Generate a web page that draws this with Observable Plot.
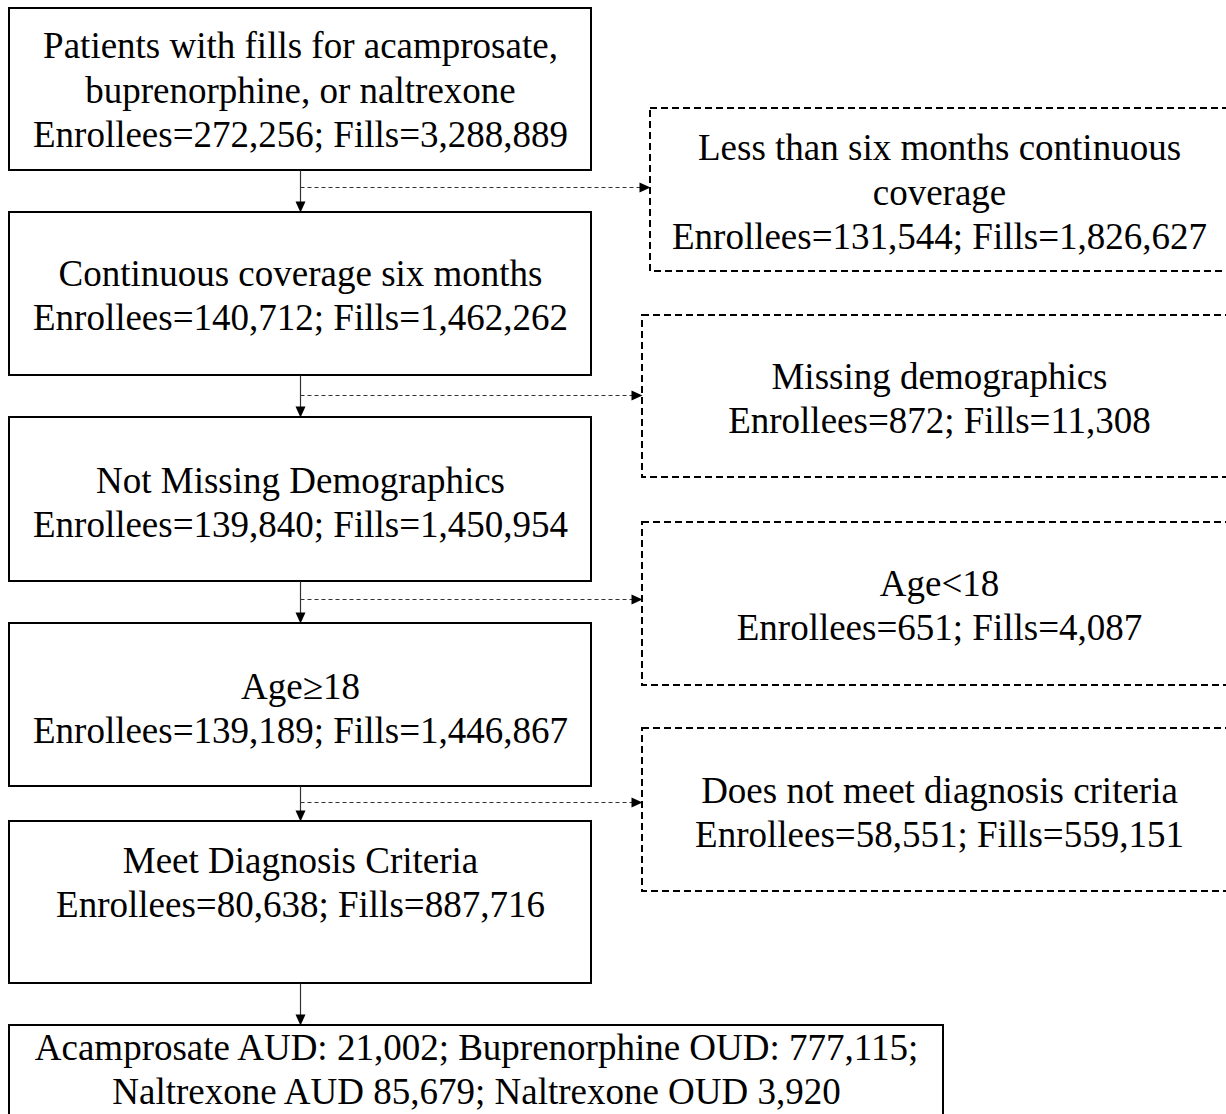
<!DOCTYPE html>
<html>
<head>
<meta charset="utf-8">
<script src="https://cdn.jsdelivr.net/npm/d3@7"></script>
<script src="https://cdn.jsdelivr.net/npm/@observablehq/plot@0.6"></script>
<style>
  html, body { margin: 0; padding: 0; background: #fff; }
  #chart svg { display: block; }
</style>
</head>
<body>
<div id="chart"></div>
<script>
// ---- Data ----
const stepNames = [
  "Patients with fills for acamprosate,\nbuprenorphine, or naltrexone",
  "Continuous coverage six months",
  "Not Missing Demographics",
  "Age\u226518",
  "Meet Diagnosis Criteria"
];
const stepEnrollees = [272256, 140712, 139840, 139189, 80638];
const stepFills = [3288889, 1462262, 1450954, 1446867, 887716];

const exclNames = [
  "Less than six months continuous\ncoverage",
  "Missing demographics",
  "Age<18",
  "Does not meet diagnosis criteria"
];
const exclEnrollees = [131544, 872, 651, 58551];
const exclFills = [1826627, 11308, 4087, 559151];

const outcomeNames = ["Acamprosate AUD", "Buprenorphine OUD", "Naltrexone AUD", "Naltrexone OUD"];
const outcomeFills = [21002, 777115, 85679, 3920];

// ---- Layout (pixel geometry of the flow diagram) ----
const W = 1226, H = 1114;
const flowX = 300;
const stepX1 = 9, stepX2 = 591;
const stepY1 = [8, 212, 417, 623, 821];
const stepY2 = [170, 375, 581, 786, 983];
const stepTextY = [88, 293, 500, 706, 880];
const exclX1 = [650, 642, 642, 642];
const exclX2 = 1245;
const exclY1 = [108, 315, 522, 728];
const exclY2 = [271, 477, 685, 891];
const exclTextY = [190, 396, 603, 810];
const exclArrowY = [187, 395, 599, 802];
const exclTextX = 939;
const finalX1 = 9, finalX2 = 943, finalY1 = 1025, finalY2 = 1135, finalTextY = 1067;
const headLen = 11, headHalfW = 5;

// ---- Derived tables ----
const fmt = d3.format(",");
const steps = stepNames.map((n, i) => ({
  label: `${n}\nEnrollees=${fmt(stepEnrollees[i])}; Fills=${fmt(stepFills[i])}`,
  x1: stepX1, x2: stepX2, y1: stepY1[i], y2: stepY2[i], ty: stepTextY[i]
}));
const excl = exclNames.map((n, i) => ({
  label: `${n}\nEnrollees=${fmt(exclEnrollees[i])}; Fills=${fmt(exclFills[i])}`,
  x1: exclX1[i], x2: exclX2, y1: exclY1[i], y2: exclY2[i], ty: exclTextY[i], ay: exclArrowY[i]
}));
const finalLabel =
  `${outcomeNames[0]}: ${fmt(outcomeFills[0])}; ${outcomeNames[1]}: ${fmt(outcomeFills[1])};\n` +
  `${outcomeNames[2]} ${fmt(outcomeFills[2])}; ${outcomeNames[3]} ${fmt(outcomeFills[3])}`;
const finalBox = [{label: finalLabel, x1: finalX1, x2: finalX2, y1: finalY1, y2: finalY2, ty: finalTextY}];

// vertical connectors: from each step bottom to next box top
const nextTops = [...stepY1.slice(1), finalY1];
const vlinks = stepY2.map((b, i) => ({x: flowX, y1: b, y2: nextTops[i]}));

// arrowhead triangles as small closed polygons (one per connector)
const vHeads = vlinks.flatMap((d, i) => [
  {id: "v" + i, x: d.x - headHalfW, y: d.y2 - headLen},
  {id: "v" + i, x: d.x + headHalfW, y: d.y2 - headLen},
  {id: "v" + i, x: d.x, y: d.y2}
]);
const hHeads = excl.flatMap((d, i) => [
  {id: "h" + i, x: d.x1 - headLen, y: d.ay - headHalfW},
  {id: "h" + i, x: d.x1 - headLen, y: d.ay + headHalfW},
  {id: "h" + i, x: d.x1, y: d.ay}
]);

const font = "'Liberation Serif', 'Times New Roman', Times, serif";

const chart = Plot.plot({
  width: W, height: H,
  margin: 0,
  x: {domain: [0, W], range: [0, W], axis: null},
  y: {domain: [0, H], range: [0, H], axis: null},
  style: {background: "#fff", fontFamily: font},
  marks: [
    // solid step boxes
    Plot.rect(steps, {x1: "x1", x2: "x2", y1: "y1", y2: "y2", fill: "white", stroke: "black", strokeWidth: 2, clip: true}),
    Plot.rect(finalBox, {x1: "x1", x2: "x2", y1: "y1", y2: "y2", fill: "white", stroke: "black", strokeWidth: 2, clip: true}),
    // dashed exclusion boxes
    Plot.rect(excl, {x1: "x1", x2: "x2", y1: "y1", y2: "y2", fill: "white", stroke: "black", strokeWidth: 2, strokeDasharray: "7,4", clip: true}),
    // vertical arrows
    Plot.link(vlinks, {x1: "x", x2: "x", y1: "y1", y2: d => d.y2 - headLen + 1, stroke: "#333", strokeWidth: 1.2}),
    Plot.line(vHeads, {x: "x", y: "y", z: "id", fill: "black", stroke: "none", curve: "linear-closed"}),
    // dashed horizontal arrows
    Plot.link(excl, {x1: flowX, x2: d => d.x1 - headLen + 1, y1: "ay", y2: "ay", stroke: "#333", strokeWidth: 1.2, strokeDasharray: "4,3"}),
    Plot.line(hHeads, {x: "x", y: "y", z: "id", fill: "black", stroke: "none", curve: "linear-closed"}),
    // texts
    Plot.text(steps, {x: flowX, y: "ty", text: "label", fontSize: 37, lineHeight: 1.2, fill: "black", fontFamily: font}),
    Plot.text(excl, {x: exclTextX, y: "ty", text: "label", fontSize: 37, lineHeight: 1.2, fill: "black", fontFamily: font}),
    Plot.text(finalBox, {x: d => (d.x1 + d.x2) / 2, y: "ty", text: "label", fontSize: 37, lineHeight: 1.2, fill: "black", fontFamily: font})
  ]
});
document.getElementById("chart").appendChild(chart);
</script>
</body>
</html>
